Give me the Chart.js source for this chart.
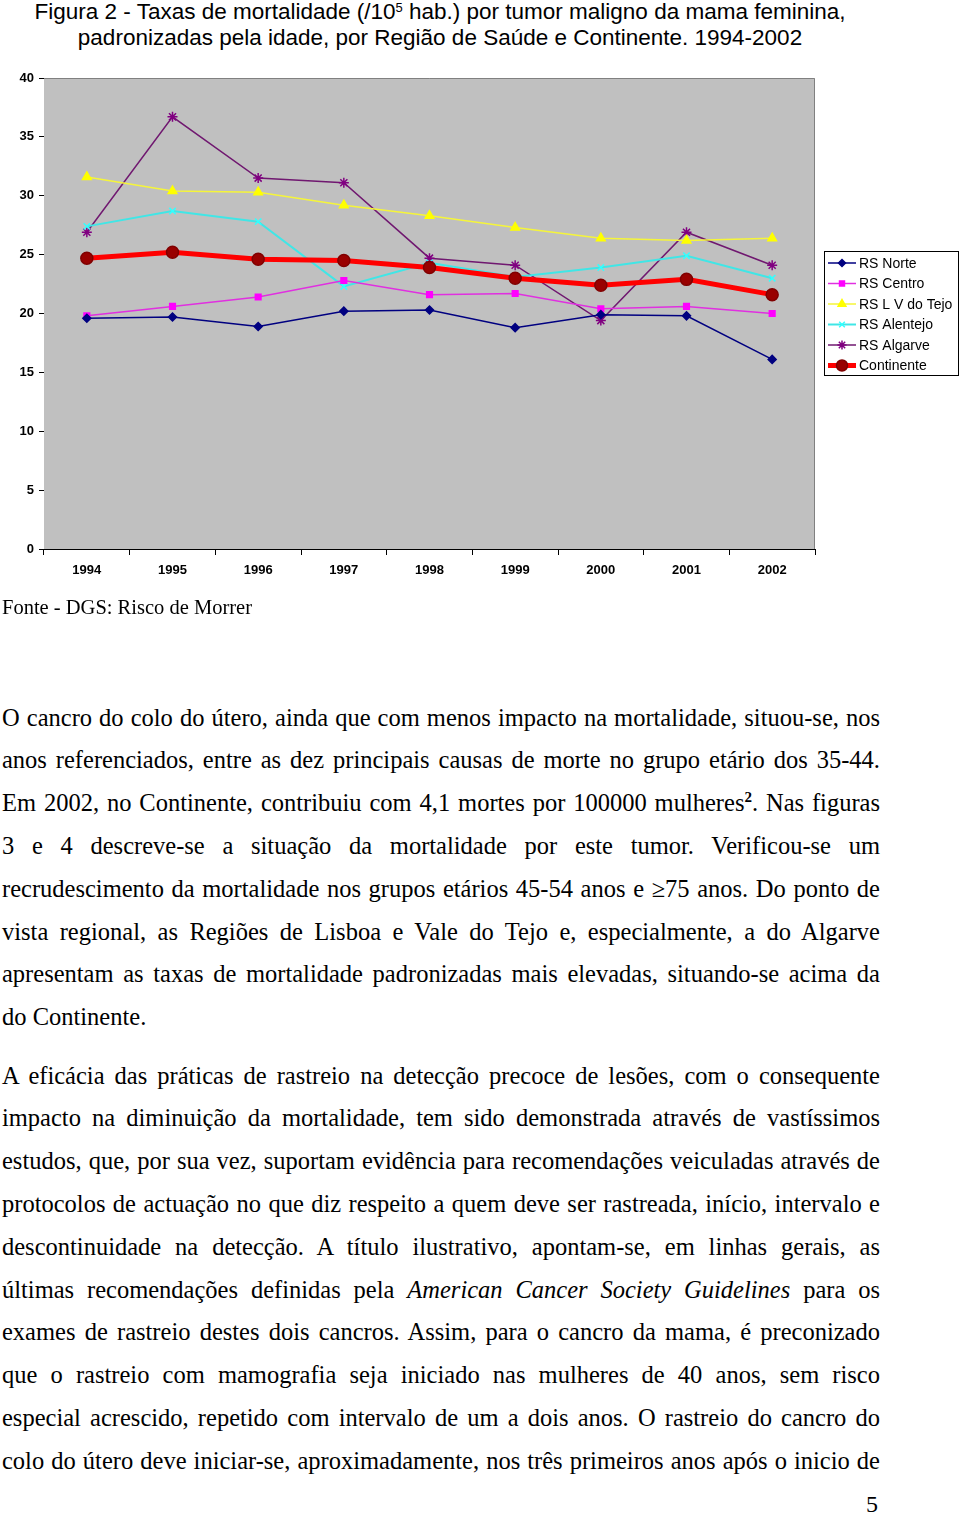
<!DOCTYPE html>
<html>
<head>
<meta charset="utf-8">
<script src="https://cdn.jsdelivr.net/npm/chart.js@4.4.1/dist/chart.umd.min.js"></script>
<style>
  body { margin:0; background:#fff; width:960px; height:1515px; position:relative; overflow:hidden; }
  #title { position:absolute; left:0; top:-1px; width:880px; text-align:center; font-family:"Liberation Sans", Arial, sans-serif; font-size:22.5px; line-height:26px; color:#000; }
  #title sup { font-size:13px; vertical-align:top; position:relative; top:-4px; }
  #chartBox { position:absolute; left:0; top:0; }
  .src { position:absolute; left:2px; top:596px; font-family:"Liberation Serif", "Times New Roman", serif; font-size:20.5px; }
  .para { position:absolute; left:2px; width:878px; font-family:"Liberation Serif", "Times New Roman", serif; font-size:24.5px; line-height:42.8px; color:#000; }
  .para div { white-space:nowrap; text-align:justify; text-align-last:justify; }
  .para div.last { text-align-last:left; }
  .para sup { font-size:15px; font-weight:bold; vertical-align:top; position:relative; top:-6px; }
  .pg { position:absolute; left:866px; top:1491px; font-family:"Liberation Serif", serif; font-size:24px; }
</style>
</head>
<body>
<div id="title">Figura 2 - Taxas de mortalidade (/10<sup>5</sup> hab.) por tumor maligno da mama feminina,<br>padronizadas pela idade, por Região de Saúde e Continente. 1994-2002</div>
<div id="chartBox"><canvas id="mortChart" width="960" height="600"></canvas></div>
<div class="src">Fonte - DGS: Risco de Morrer</div>

<div class="para" style="top:696.6px">
  <div>O cancro do colo do útero, ainda que com menos impacto na mortalidade, situou-se, nos</div>
  <div>anos referenciados, entre as dez principais causas de morte no grupo etário dos 35-44.</div>
  <div>Em 2002, no Continente, contribuiu com 4,1 mortes por 100000 mulheres<sup>2</sup>. Nas figuras</div>
  <div>3 e 4 descreve-se a situação da mortalidade por este tumor. Verificou-se um</div>
  <div>recrudescimento da mortalidade nos grupos etários 45-54 anos e ≥75 anos. Do ponto de</div>
  <div>vista regional, as Regiões de Lisboa e Vale do Tejo e, especialmente, a do Algarve</div>
  <div>apresentam as taxas de mortalidade padronizadas mais elevadas, situando-se acima da</div>
  <div class="last">do Continente.</div>
</div>

<div class="para" style="top:1054.6px">
  <div>A eficácia das práticas de rastreio na detecção precoce de lesões, com o consequente</div>
  <div>impacto na diminuição da mortalidade, tem sido demonstrada através de vastíssimos</div>
  <div>estudos, que, por sua vez, suportam evidência para recomendações veiculadas através de</div>
  <div>protocolos de actuação no que diz respeito a quem deve ser rastreada, início, intervalo e</div>
  <div>descontinuidade na detecção. A título ilustrativo, apontam-se, em linhas gerais, as</div>
  <div>últimas recomendações definidas pela <i>American Cancer Society Guidelines</i> para os</div>
  <div>exames de rastreio destes dois cancros. Assim, para o cancro da mama, é preconizado</div>
  <div>que o rastreio com mamografia seja iniciado nas mulheres de 40 anos, sem risco</div>
  <div>especial acrescido, repetido com intervalo de um a dois anos. O rastreio do cancro do</div>
  <div>colo do útero deve iniciar-se, aproximadamente, nos três primeiros anos após o inicio de</div>
</div>
<div class="pg">5</div>

<script>
const years = ['1994', '1995', '1996', '1997', '1998', '1999', '2000', '2001', '2002'];
const yTicks = [0, 5, 10, 15, 20, 25, 30, 35, 40];

const norte      = [19.6, 19.7, 18.9, 20.2, 20.3, 18.8, 19.9, 19.8, 16.1];
const centro     = [19.8, 20.6, 21.4, 22.8, 21.6, 21.7, 20.4, 20.6, 20.0];
const lvTejo     = [31.6, 30.4, 30.3, 29.2, 28.3, 27.3, 26.4, 26.2, 26.4];
const alentejo   = [27.4, 28.7, 27.8, 22.3, 24.3, 23.1, 23.9, 24.9, 23.0];
const algarve    = [26.9, 36.7, 31.5, 31.1, 24.7, 24.1, 19.4, 26.9, 24.1];
const continente = [24.7, 25.2, 24.6, 24.5, 23.9, 23.0, 22.4, 22.9, 21.6];

const seriesNames = ['RS Norte', 'RS Centro', 'RS L V do Tejo', 'RS Alentejo', 'RS Algarve', 'Continente'];

// plot area backdrop + legend box drawn by hand (excel style)
const excelLook = {
    id: 'excelLook',
    beforeDatasetsDraw(chart) {
        const a = chart.chartArea, ctx = chart.ctx;
        ctx.save();
        ctx.fillStyle = '#c0c0c0';
        ctx.fillRect(a.left, a.top, a.right - a.left, a.bottom - a.top);
        ctx.strokeStyle = '#808080';
        ctx.lineWidth = 1;
        ctx.beginPath();
        ctx.moveTo(a.left, a.top + 0.5);
        ctx.lineTo(a.right - 0.5, a.top + 0.5);
        ctx.lineTo(a.right - 0.5, a.bottom);
        ctx.stroke();
        ctx.restore();
    },
    afterDraw(chart) {
        const ctx = chart.ctx;
        ctx.save();
        ctx.strokeStyle = '#000';
        ctx.lineWidth = 1;
        ctx.strokeRect(824.5, 251.5, 134, 124);
        ctx.font = '14px "Liberation Sans", Arial, sans-serif';
        ctx.textBaseline = 'middle';
        chart.data.datasets.forEach((ds, i) => {
            const y = 263 + i * 20.5;
            ctx.strokeStyle = ds.borderColor;
            ctx.lineWidth = ds.borderWidth;
            ctx.beginPath();
            ctx.moveTo(828, y);
            ctx.lineTo(856, y);
            ctx.stroke();
            ctx.fillStyle = ds.pointBackgroundColor;
            ctx.strokeStyle = ds.pointBorderColor;
            ctx.lineWidth = 1.5;
            Chart.helpers.drawPoint(ctx, {
                pointStyle: ds.pointStyle,
                radius: ds.pointRadius - 0.5,
                rotation: 0,
                borderWidth: 1.5
            }, 842, y);
            ctx.fillStyle = '#000';
            ctx.fillText(ds.label, 859, y + 1);
        });
        ctx.restore();
    }
};

function line(label, data, color, width, style, radius, fill, edge) {
    return {
        label: label,
        data: data,
        borderColor: color,
        borderWidth: width,
        pointStyle: style,
        pointRadius: radius,
        pointHoverRadius: radius,
        pointBackgroundColor: fill,
        pointBorderColor: edge,
        pointBorderWidth: 1.5,
        tension: 0
    };
}

const datasets = [
    line(seriesNames[0], norte, '#000080', 1.5, 'rectRot', 4, '#000080', '#000080'),
    line(seriesNames[1], centro, '#e030e0', 1.5, 'rect', 4, '#ff00ff', '#ff00ff'),
    line(seriesNames[2], lvTejo, '#f5f53a', 1.5, 'triangle', 5, '#ffff00', '#ffff00'),
    line(seriesNames[3], alentejo, '#40e6e6', 2, 'crossRot', 4.5, '#33ffff', '#33ffff'),
    line(seriesNames[4], algarve, '#701870', 1.5, 'star', 5, '#800080', '#800080'),
    line(seriesNames[5], continente, '#ff0000', 5, 'circle', 6, '#990000', '#800000')
];
datasets[5].order = -1;

const ctx = document.getElementById('mortChart').getContext('2d');
new Chart(ctx, {
    type: 'line',
    data: { labels: years, datasets: datasets },
    options: {
        responsive: false,
        animation: false,
        devicePixelRatio: 1,
        layout: { padding: { top: 78, right: 145, bottom: 11, left: 0 } },
        plugins: {
            legend: { display: false },
            tooltip: { enabled: false }
        },
        scales: {
            x: {
                offset: true,
                grid: { offset: true, drawOnChartArea: false, drawTicks: true, tickLength: 6, color: '#000' },
                border: { display: true, color: '#000', width: 1 },
                ticks: {
                    color: '#000', padding: 8, maxRotation: 0,
                    font: { family: '"Liberation Sans", Arial, sans-serif', size: 13, weight: 'bold' }
                },
                afterFit(scale) { scale.height = 40; }
            },
            y: {
                min: yTicks[0],
                max: yTicks[yTicks.length - 1],
                afterBuildTicks(scale) { scale.ticks = yTicks.map(v => ({ value: v })); },
                grid: { drawOnChartArea: false, drawTicks: true, tickLength: 5, color: '#000' },
                border: { display: true, color: '#000', width: 1 },
                ticks: {
                    color: '#000', padding: 5,
                    font: { family: '"Liberation Sans", Arial, sans-serif', size: 13, weight: 'bold' }
                },
                afterFit(scale) { scale.width = 44; }
            }
        }
    },
    plugins: [excelLook]
});
</script>
</body>
</html>
